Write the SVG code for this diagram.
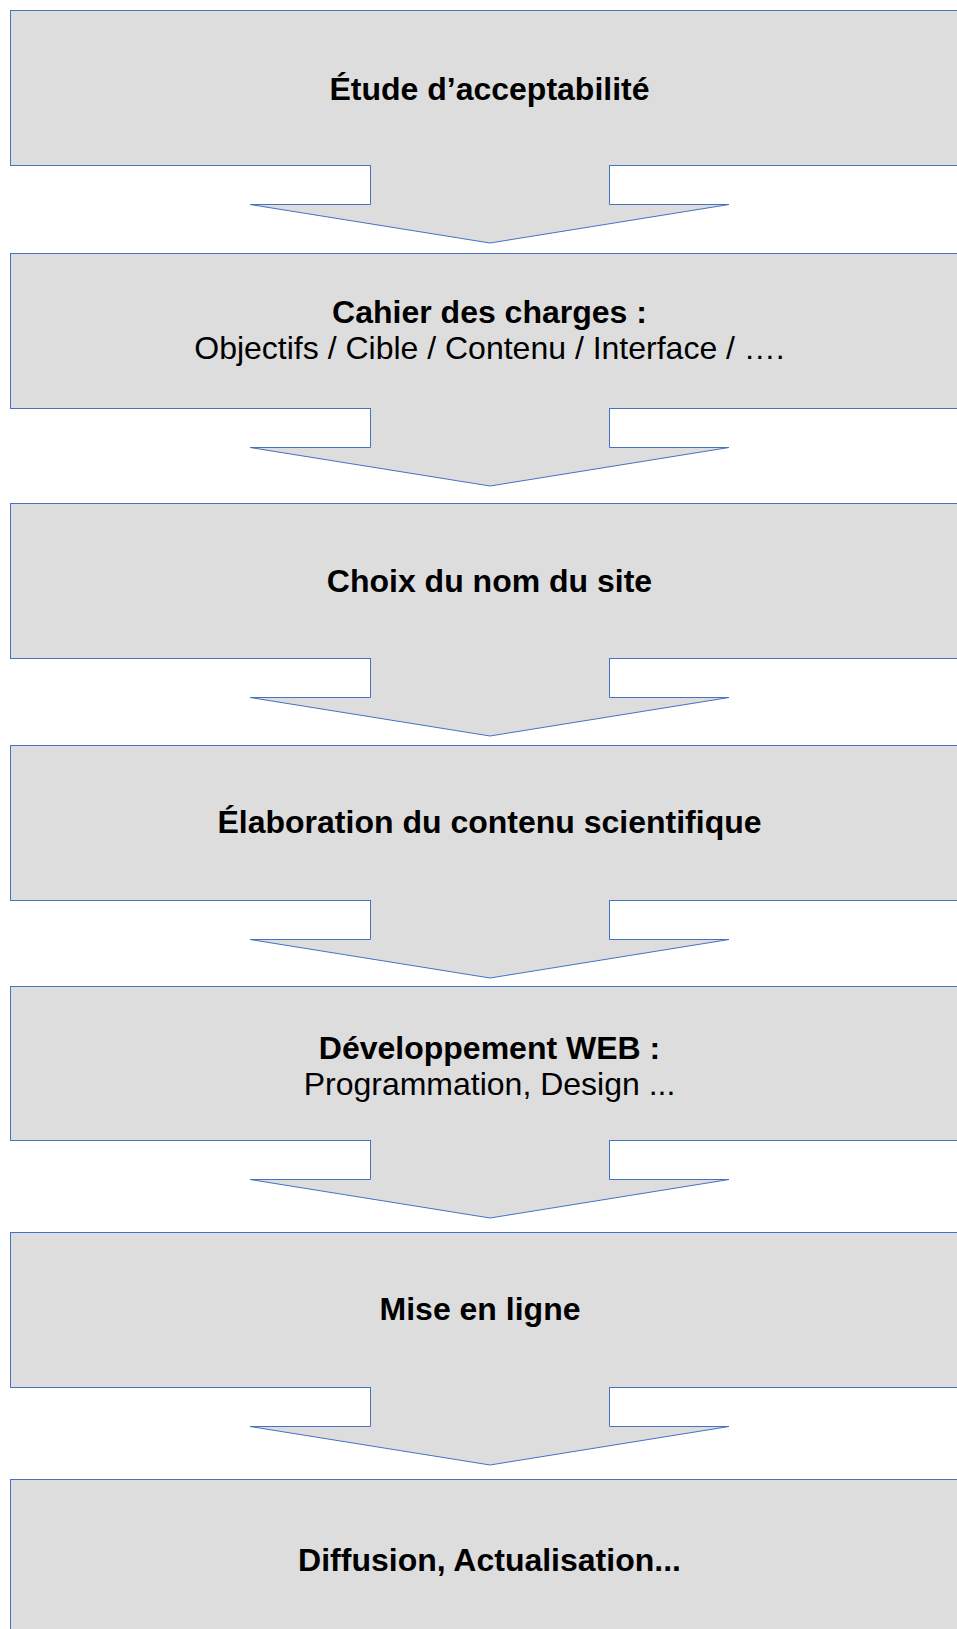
<svg xmlns="http://www.w3.org/2000/svg" width="957" height="1629" viewBox="0 0 957 1629">
<style>
.box{fill:#dddddd;stroke:#4472c4;stroke-width:1}
.af{fill:#dddddd;stroke:none}
.al{fill:none;stroke:#4472c4;stroke-width:1;stroke-linejoin:miter}
.t{font-family:"Liberation Sans",Arial,sans-serif;font-size:32px;fill:#000;text-anchor:middle}
.b{font-weight:bold}
</style>
<rect width="957" height="1629" fill="#ffffff"/>
<g id="n1"><rect class="box" x="10.5" y="10.5" width="970" height="155"/><text class="t b" x="489.5" y="100">Étude d’acceptabilité</text></g>
<g id="n2"><rect class="box" x="10.5" y="253.5" width="970" height="155"/><text class="t b" x="489.5" y="323">Cahier des charges :</text><text class="t" x="489.5" y="359">Objectifs / Cible / Contenu / Interface / ….</text></g>
<g id="n3"><rect class="box" x="10.5" y="503.5" width="970" height="155"/><text class="t b" x="489.5" y="591.5">Choix du nom du site</text></g>
<g id="n4"><rect class="box" x="10.5" y="745.5" width="970" height="155"/><text class="t b" x="489.5" y="832.5">Élaboration du contenu scientifique</text></g>
<g id="n5"><rect class="box" x="10.5" y="986.5" width="970" height="154"/><text class="t b" x="489.5" y="1059">Développement WEB :</text><text class="t" x="489.5" y="1095">Programmation, Design ...</text></g>
<g id="n6"><rect class="box" x="10.5" y="1232.5" width="970" height="155"/><text class="t b" x="480" y="1319.5">Mise en ligne</text></g>
<g id="n7"><rect class="box" x="10.5" y="1479.5" width="970" height="160"/><text class="t b" x="489.5" y="1571">Diffusion, Actualisation...</text></g>
<g id="connectors">
<g transform="translate(0,165)"><polygon class="af" points="370.5,-0.5 370.5,39.5 250,39.5 490,78 729,39.5 609.5,39.5 609.5,-0.5"/><polyline class="al" points="370.5,0 370.5,39.5 250,39.5 490,78 729,39.5 609.5,39.5 609.5,0"/></g>
<g transform="translate(0,408)"><polygon class="af" points="370.5,-0.5 370.5,39.5 250,39.5 490,78 729,39.5 609.5,39.5 609.5,-0.5"/><polyline class="al" points="370.5,0 370.5,39.5 250,39.5 490,78 729,39.5 609.5,39.5 609.5,0"/></g>
<g transform="translate(0,658)"><polygon class="af" points="370.5,-0.5 370.5,39.5 250,39.5 490,78 729,39.5 609.5,39.5 609.5,-0.5"/><polyline class="al" points="370.5,0 370.5,39.5 250,39.5 490,78 729,39.5 609.5,39.5 609.5,0"/></g>
<g transform="translate(0,900)"><polygon class="af" points="370.5,-0.5 370.5,39.5 250,39.5 490,78 729,39.5 609.5,39.5 609.5,-0.5"/><polyline class="al" points="370.5,0 370.5,39.5 250,39.5 490,78 729,39.5 609.5,39.5 609.5,0"/></g>
<g transform="translate(0,1140)"><polygon class="af" points="370.5,-0.5 370.5,39.5 250,39.5 490,78 729,39.5 609.5,39.5 609.5,-0.5"/><polyline class="al" points="370.5,0 370.5,39.5 250,39.5 490,78 729,39.5 609.5,39.5 609.5,0"/></g>
<g transform="translate(0,1387)"><polygon class="af" points="370.5,-0.5 370.5,39.5 250,39.5 490,78 729,39.5 609.5,39.5 609.5,-0.5"/><polyline class="al" points="370.5,0 370.5,39.5 250,39.5 490,78 729,39.5 609.5,39.5 609.5,0"/></g>
</g>
</svg>
